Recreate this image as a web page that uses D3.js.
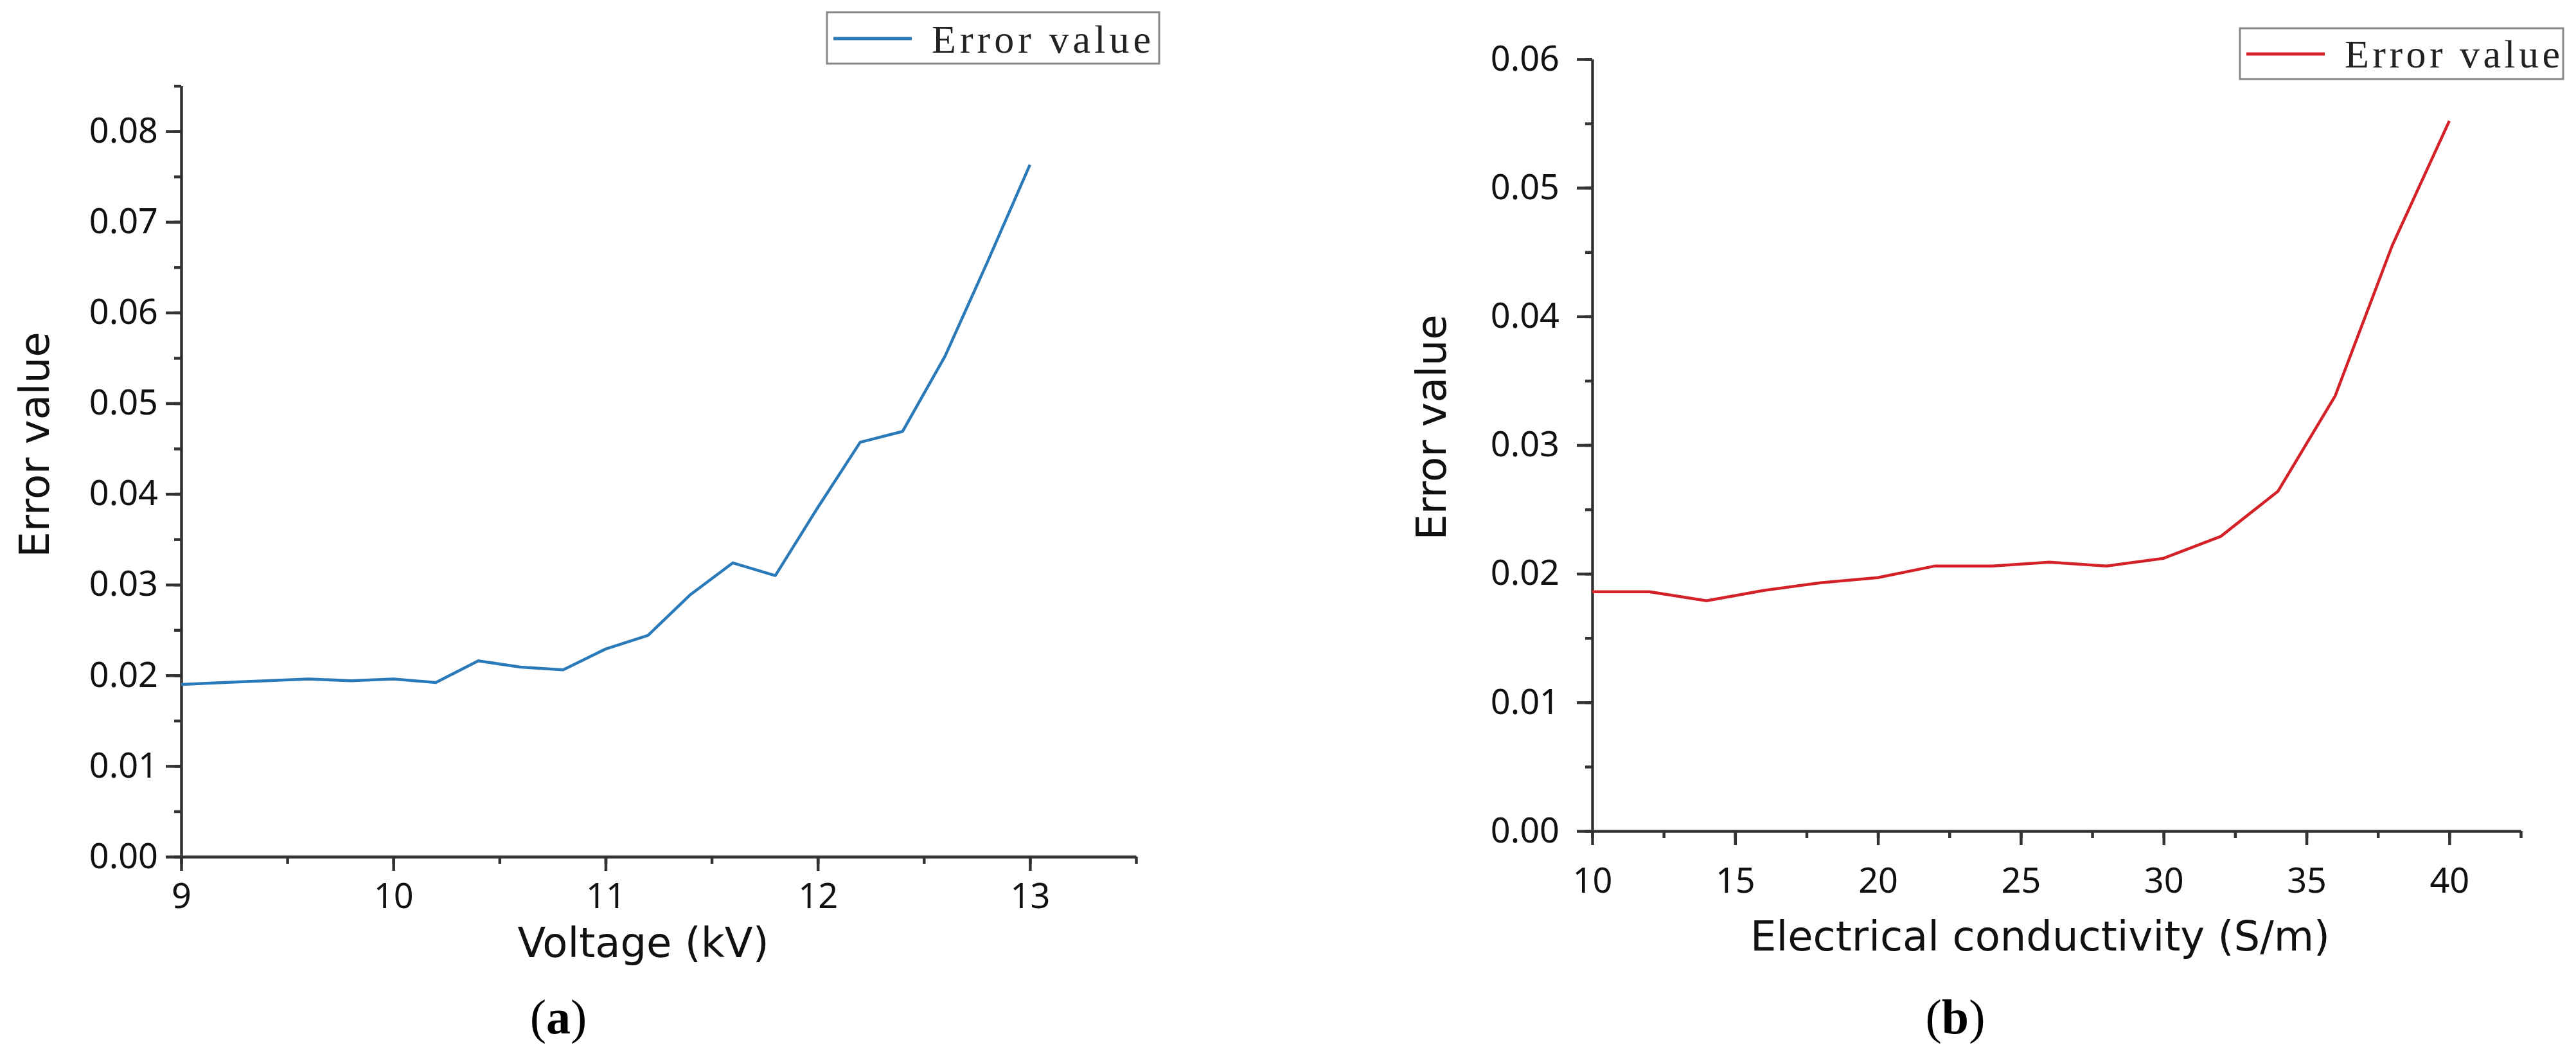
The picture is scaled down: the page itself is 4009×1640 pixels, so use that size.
<!DOCTYPE html>
<html>
<head>
<meta charset="utf-8">
<script src="https://cdn.jsdelivr.net/npm/d3@7"></script>
<style>
  html, body { margin: 0; padding: 0; background: #fff; }
  svg { display: block; }
  .tick text { font-family: "Noto Sans", sans-serif; font-size: 54px; fill: #111; }
</style>
</head>
<body>
<svg id="chart" width="4009" height="1640"></svg>
<script>
// ---------- Data ----------
const voltage = [9.0, 9.2, 9.4, 9.6, 9.8, 10.0, 10.2, 10.4, 10.6, 10.8, 11.0, 11.2, 11.4, 11.6, 11.8, 12.0, 12.2, 12.4, 12.6, 12.8, 13.0];
const voltageError = [0.0190, 0.0192, 0.0194, 0.0196, 0.0194, 0.0196, 0.0192, 0.0216, 0.0209, 0.0206, 0.0229, 0.0244, 0.0289, 0.0324, 0.0310, 0.0385, 0.0457, 0.0469, 0.0552, 0.0656, 0.0763];

const conductivity = [10, 12, 14, 16, 18, 20, 22, 24, 26, 28, 30, 32, 34, 36, 38, 40];
const conductivityError = [0.0186, 0.0186, 0.0179, 0.0187, 0.0193, 0.0197, 0.0206, 0.0206, 0.0209, 0.0206, 0.0212, 0.0229, 0.0264, 0.0338, 0.0455, 0.0552];

const xTicksA = [9, 10, 11, 12, 13];
const xTickLabelsA = ["9", "10", "11", "12", "13"];
const yTicksA = [0, 0.01, 0.02, 0.03, 0.04, 0.05, 0.06, 0.07, 0.08];
const yTickLabelsA = ["0.00", "0.01", "0.02", "0.03", "0.04", "0.05", "0.06", "0.07", "0.08"];

const xTicksB = [10, 15, 20, 25, 30, 35, 40];
const xTickLabelsB = ["10", "15", "20", "25", "30", "35", "40"];
const yTicksB = [0, 0.01, 0.02, 0.03, 0.04, 0.05, 0.06];
const yTickLabelsB = ["0.00", "0.01", "0.02", "0.03", "0.04", "0.05", "0.06"];

const seriesName = "Error value";
const xTitleA = "Voltage (kV)";
const xTitleB = "Electrical conductivity (S/m)";
const yTitle = "Error value";

// ---------- Drawing ----------
const svg = d3.select("#chart");
const axisColor = "#333";

function panel(cfg) {
  const g = svg.append("g");
  const x = d3.scaleLinear().domain(cfg.xDomain).range(cfg.xRange);
  const y = d3.scaleLinear().domain(cfg.yDomain).range(cfg.yRange);
  const y0 = cfg.yRange[0], x0 = cfg.xRange[0];

  // minor ticks
  const xMinor = d3.range(cfg.xDomain[0], cfg.xDomain[1] + 1e-9, cfg.xMinorStep);
  const yMinor = d3.range(cfg.yDomain[0], cfg.yDomain[1] + 1e-9, cfg.yMinorStep);
  g.append("g").attr("transform", `translate(0,${y0})`)
    .call(d3.axisBottom(x).tickValues(xMinor).tickSize(11).tickFormat(""))
    .call(s => s.select(".domain").remove());
  g.append("g").attr("transform", `translate(${x0},0)`)
    .call(d3.axisLeft(y).tickValues(yMinor).tickSize(11).tickFormat(""))
    .call(s => s.select(".domain").remove());

  // major axes
  g.append("g").attr("transform", `translate(0,${y0})`)
    .call(d3.axisBottom(x).tickValues(cfg.xTicks).tickSize(22).tickSizeOuter(0).tickPadding(cfg.xPad)
      .tickFormat((d, i) => cfg.xLabels[i]));
  g.append("g").attr("transform", `translate(${x0},0)`)
    .call(d3.axisLeft(y).tickValues(cfg.yTicks).tickSize(24).tickSizeOuter(0).tickPadding(cfg.yPad)
      .tickFormat((d, i) => cfg.yLabels[i]));

  g.selectAll(".domain").attr("stroke", axisColor).attr("stroke-width", 4.5);
  g.selectAll(".tick line").attr("stroke", axisColor).attr("stroke-width", 4.5);

  // line
  const line = d3.line().x(d => x(d[0])).y(d => y(d[1]));
  g.append("path")
    .datum(cfg.xs.map((v, i) => [v, cfg.ys[i]]))
    .attr("fill", "none")
    .attr("stroke", cfg.color)
    .attr("stroke-width", 4.5)
    .attr("stroke-linejoin", "round")
    .attr("d", line);

  // titles
  g.append("text")
    .attr("x", cfg.xTitlePos[0]).attr("y", cfg.xTitlePos[1])
    .attr("text-anchor", "middle")
    .style("font-family", "'DejaVu Sans', sans-serif").style("font-size", "64px").attr("fill", "#111")
    .text(cfg.xTitle);
  g.append("text")
    .attr("transform", `translate(${cfg.yTitlePos[0]},${cfg.yTitlePos[1]}) rotate(-90)`)
    .attr("text-anchor", "middle")
    .style("font-family", "'DejaVu Sans', sans-serif").style("font-size", "64px").attr("fill", "#111")
    .text(yTitle);

  // legend
  const L = cfg.legend;
  g.append("rect").attr("x", L.x).attr("y", L.y).attr("width", L.w).attr("height", L.h)
    .attr("fill", "#fff").attr("stroke", "#888").attr("stroke-width", 3);
  g.append("line").attr("x1", L.x + 10).attr("x2", L.x + 132).attr("y1", L.lineY).attr("y2", L.lineY)
    .attr("stroke", cfg.color).attr("stroke-width", 5);
  g.append("text").attr("x", L.x + 163).attr("y", L.textY)
    .attr("textLength", L.textLen).attr("lengthAdjust", "spacing")
    .style("font-family", "'Liberation Serif', serif").style("font-size", "62px").attr("fill", "#222")
    .text(seriesName);

  // caption
  const cap = g.append("text").attr("x", cfg.capPos[0]).attr("y", cfg.capPos[1])
    .attr("text-anchor", "middle")
    .style("font-family", "'Liberation Serif', serif").style("font-size", "76px").attr("fill", "#000");
  cap.append("tspan").text("(");
  cap.append("tspan").attr("font-weight", "bold").text(cfg.capLetter);
  cap.append("tspan").text(")");
}

panel({
  xDomain: [9, 13.5], xRange: [282, 1768],
  yDomain: [0, 0.085], yRange: [1333, 133.6],
  xMinorStep: 0.5, yMinorStep: 0.005,
  xTicks: xTicksA, xLabels: xTickLabelsA, yTicks: yTicksA, yLabels: yTickLabelsA,
  xPad: 20, yPad: 12,
  xs: voltage, ys: voltageError, color: "#2a7ab9",
  xTitle: xTitleA, xTitlePos: [1001, 1489], yTitlePos: [76, 692],
  legend: { x: 1287, y: 19, w: 517, h: 80, lineY: 60, textY: 82, textLen: 341 },
  capPos: [869, 1608], capLetter: "a"
});

panel({
  xDomain: [10, 42.5], xRange: [2478, 3923],
  yDomain: [0, 0.06], yRange: [1293, 92],
  xMinorStep: 2.5, yMinorStep: 0.005,
  xTicks: xTicksB, xLabels: xTickLabelsB, yTicks: yTicksB, yLabels: yTickLabelsB,
  xPad: 36, yPad: 27,
  xs: conductivity, ys: conductivityError, color: "#d42027",
  xTitle: xTitleB, xTitlePos: [3175, 1479], yTitlePos: [2250, 665],
  legend: { x: 3486, y: 44, w: 503, h: 79, lineY: 84, textY: 105, textLen: 335 },
  capPos: [3043, 1608], capLetter: "b"
});
</script>
</body>
</html>
